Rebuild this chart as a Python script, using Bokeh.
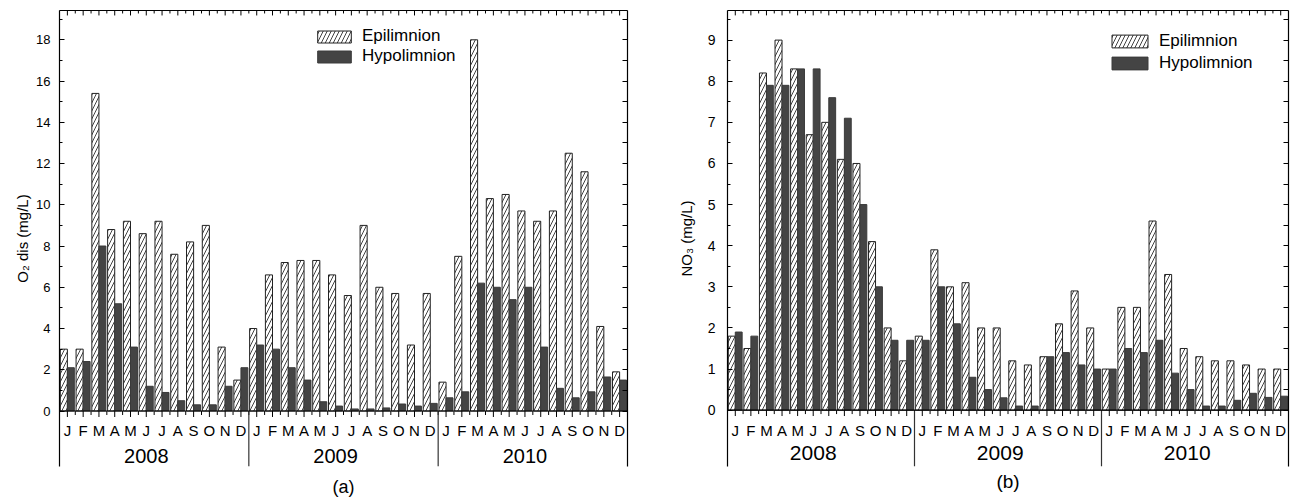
import numpy as np
from bokeh.plotting import figure
from bokeh.models import (Range1d, LinearAxis, FixedTicker, Span, Legend,
                          LegendItem, ColumnDataSource)
from bokeh.layouts import row
from bokeh.core.properties import value
from bokeh.embed import file_html
from bokeh.resources import INLINE

# ---------------- data ----------------
months = ["J", "F", "M", "A", "M", "J", "J", "A", "S", "O", "N", "D"]
years = ["2008", "2009", "2010"]
series_names = ["Epilimnion", "Hypolimnion"]

o2_epi = [3.0, 3.0, 15.4, 8.8, 9.2, 8.6, 9.2, 7.6, 8.2, 9.0, 3.1, 1.5,
          4.0, 6.6, 7.2, 7.3, 7.3, 6.6, 5.6, 9.0, 6.0, 5.7, 3.2, 5.7,
          1.4, 7.5, 18.0, 10.3, 10.5, 9.7, 9.2, 9.7, 12.5, 11.6, 4.1, 1.9]
o2_hypo = [2.1, 2.4, 8.0, 5.2, 3.1, 1.2, 0.9, 0.5, 0.3, 0.3, 1.2, 2.1,
           3.2, 3.0, 2.1, 1.5, 0.45, 0.24, 0.1, 0.1, 0.15, 0.34, 0.24, 0.37,
           0.64, 0.93, 6.2, 6.0, 5.4, 6.0, 3.1, 1.1, 0.64, 0.93, 1.65, 1.5]

no3_epi = [1.8, 1.5, 8.2, 9.0, 8.3, 6.7, 7.0, 6.1, 6.0, 4.1, 2.0, 1.2,
           1.8, 3.9, 3.0, 3.1, 2.0, 2.0, 1.2, 1.1, 1.3, 2.1, 2.9, 2.0,
           1.0, 2.5, 2.5, 4.6, 3.3, 1.5, 1.3, 1.2, 1.2, 1.1, 1.0, 1.0]
no3_hypo = [1.9, 1.8, 7.9, 7.9, 8.3, 8.3, 7.6, 7.1, 5.0, 3.0, 1.7, 1.7,
            1.7, 3.0, 2.1, 0.8, 0.5, 0.3, 0.1, 0.1, 1.3, 1.4, 1.1, 1.0,
            1.0, 1.5, 1.4, 1.7, 0.9, 0.5, 0.1, 0.1, 0.24, 0.41, 0.31, 0.34]

o2_major = [0, 2, 4, 6, 8, 10, 12, 14, 16, 18]
o2_minor = [1, 3, 5, 7, 9, 11, 13, 15, 17, 19]
no3_major = [0, 1, 2, 3, 4, 5, 6, 7, 8, 9]
no3_minor = [0.5, 1.5, 2.5, 3.5, 4.5, 5.5, 6.5, 7.5, 8.5, 9.5]

FONT = "Liberation Sans"


def panel(epi, hypo, major, minor, right_ticks, ylabel, tag, g):
    n = len(epi)
    p = figure(width=g["w"], height=499,
               x_range=Range1d(0, n), y_range=Range1d(g["ymin"], g["ymax"]),
               x_axis_location=None, y_axis_location=None,
               output_backend="svg", toolbar_location=None,
               min_border_left=g["bl"], min_border_right=g["br"],
               min_border_top=g["bt"], min_border_bottom=g["bb"])
    p.outline_line_color = None
    p.grid.grid_line_color = None
    p.background_fill_color = "white"
    p.border_fill_color = "white"

    x = np.arange(n)
    src = ColumnDataSource(dict(xe=x + 0.275, xh=x + 0.72, epi=epi, hypo=hypo))
    r1 = p.vbar(x="xe", top="epi", bottom=0, width=0.45, source=src,
                fill_color="white", line_color="#222222", line_width=1,
                hatch_pattern="/", hatch_scale=8, hatch_weight=0.8,
                hatch_color="#111111")
    r2 = p.vbar(x="xh", top="hypo", bottom=0, width=0.44, source=src,
                fill_color="#444444", line_color="#3a3a3a", line_width=1)

    lw = 1.2
    # left axis
    yl = LinearAxis(ticker=FixedTicker(ticks=major, minor_ticks=minor),
                    axis_label=ylabel,
                    major_tick_in=5, major_tick_out=0,
                    minor_tick_in=3, minor_tick_out=0,
                    major_label_standoff=g["mls"],
                    axis_label_standoff=g["als"],
                    axis_line_width=lw, axis_line_color="black",
                    major_tick_line_color="black", minor_tick_line_color="black",
                    major_label_text_font=FONT, major_label_text_font_size=g["tfs"],
                    major_label_text_color="black",
                    axis_label_text_font=FONT, axis_label_text_font_size="15px",
                    axis_label_text_font_style="normal",
                    axis_label_text_color="black")
    p.add_layout(yl, "left")
    # right axis (frame line + ticks)
    yr = LinearAxis(ticker=FixedTicker(ticks=[], minor_ticks=right_ticks),
                    major_tick_in=0, major_tick_out=0,
                    minor_tick_in=5, minor_tick_out=0,
                    major_label_standoff=0,
                    axis_line_width=lw, axis_line_color="black",
                    minor_tick_line_color="black")
    p.add_layout(yr, "right")
    # top axis (frame line)
    xt = LinearAxis(ticker=FixedTicker(ticks=[], minor_ticks=[]),
                    major_tick_in=0, major_tick_out=0, minor_tick_in=0,
                    minor_tick_out=0, major_label_standoff=0,
                    axis_line_width=lw, axis_line_color="black")
    p.add_layout(xt, "above")
    # bottom axis only carries the panel tag
    xb = LinearAxis(ticker=FixedTicker(ticks=[], minor_ticks=[]),
                    major_tick_in=0, major_tick_out=0, minor_tick_in=0,
                    minor_tick_out=0, major_label_standoff=0,
                    axis_line_color=None, axis_label=tag,
                    axis_label_standoff=g["tagso"],
                    axis_label_text_font=FONT, axis_label_text_font_size=g["tagfs"],
                    axis_label_text_font_style="normal",
                    axis_label_text_color="black")
    p.add_layout(xb, "below")

    # baseline of bars (bottom frame line)
    p.add_layout(Span(location=0, dimension="width", line_color="black",
                      line_width=lw))

    ppu = g["ppu"]  # pixels per y unit
    centers = x + 0.5
    bounds = np.arange(n + 1)
    # bottom ticks (outward)
    p.segment(x0=centers, y0=0, x1=centers, y1=-6 / ppu, line_color="black", line_width=1)
    p.segment(x0=bounds, y0=0, x1=bounds, y1=-4 / ppu, line_color="black", line_width=1)
    # top ticks (inward)
    top = g["ymax"]
    p.segment(x0=centers, y0=top, x1=centers, y1=top - 5 / ppu, line_color="black", line_width=1)
    p.segment(x0=bounds, y0=top, x1=bounds, y1=top - 3 / ppu, line_color="black", line_width=1)

    # month labels
    p.text(x=centers, y=[g["my"]] * n, text=months * len(years),
           text_align="center", text_baseline="middle",
           text_font=value(FONT), text_font_size=g["mfs"], text_color="black")
    # year separators
    seps = [12 * i for i in range(1, len(years))]
    p.segment(x0=seps, y0=[0] * len(seps), x1=seps, y1=[g["ymin"]] * len(seps),
              line_color="#333333", line_width=lw)
    # year labels
    p.text(x=[12 * i + 6 + g["yoff"] for i in range(len(years))],
           y=[g["yy"]] * len(years), text=years,
           text_align="center", text_baseline="middle",
           text_font=value(FONT), text_font_size=g["yfs"], text_color="black")

    legend = Legend(items=[LegendItem(label=series_names[0], renderers=[r1]),
                           LegendItem(label=series_names[1], renderers=[r2])],
                    location=g["legloc"], orientation="vertical",
                    glyph_width=g["gw"], glyph_height=g["gh"], label_height=g["gh"],
                    spacing=g["sp"], label_standoff=7, padding=0, margin=0,
                    border_line_color=None, background_fill_alpha=0,
                    label_text_font=FONT, label_text_font_size="17px",
                    label_text_color="black")
    p.add_layout(legend)
    return p


g1 = dict(w=640, ymin=-2.69, ymax=19.42, bl=59, br=13, bt=10, bb=29,
          mls=9, als=2, tfs="13px", tagso=10, tagfs="18px", ppu=20.8,
          my=-0.96, mfs="15px", yy=-2.16, yfs="20px", yoff=-0.5,
          legloc=(254, 400), gw=42, gh=15, sp=0)
g2 = dict(w=653, ymin=-1.37, ymax=9.72, bl=87, br=5, bt=8, bb=24,
          mls=12, als=10, tfs="14px", tagso=4, tagfs="19px", ppu=42.1,
          my=-0.49, mfs="15px", yy=-1.04, yfs="21px", yoff=-0.5,
          legloc=(380, 393), gw=45, gh=16, sp=2)

p1 = panel(o2_epi, o2_hypo, o2_major, o2_minor, o2_major + o2_minor,
           "O\u2082 dis (mg/L)", "(a)", g1)
p2 = panel(no3_epi, no3_hypo, no3_major, no3_minor, no3_major + no3_minor,
           "NO\u2083 (mg/L)", "(b)", g2)

layout = row(p1, p2)
open("out.html", "w").write(file_html(layout, INLINE))
